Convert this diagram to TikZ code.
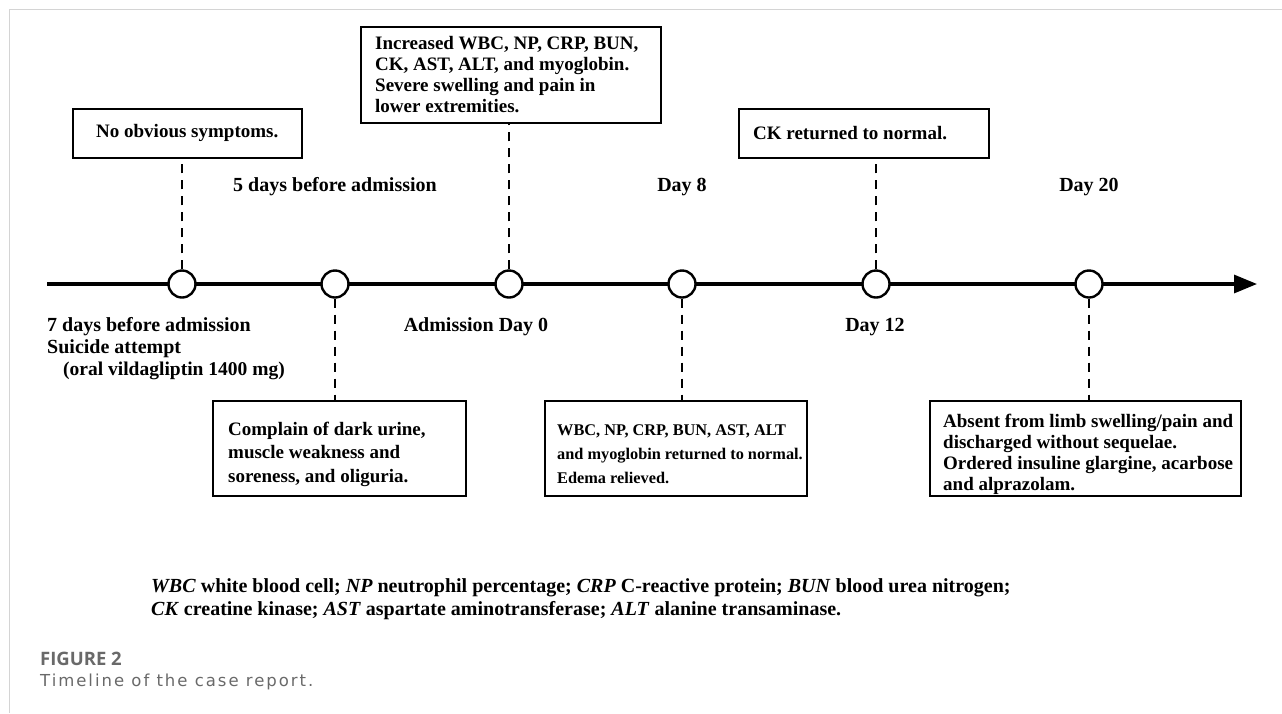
\documentclass[tikz,border=0pt]{standalone}
\usepackage{fontspec}
\setmainfont{Liberation Serif}
\newfontfamily\capfont{Open Sans}
\newfontfamily\capfontsp[LetterSpace=12]{DejaVu Sans}
\usetikzlibrary{arrows.meta}
\definecolor{framegray}{RGB}{212,212,212}
\definecolor{capgray}{RGB}{105,105,105}
\tikzset{
  boxframe/.style={draw=black, line width=2.5pt, fill=white, inner sep=0pt},
  boxtext/.style={inner sep=0pt, anchor=west, align=left, font=\bfseries\fontsize{19}{23.5}\selectfont},
  boxtextsmall/.style={boxtext, font=\bfseries\fontsize{16.3}{24}\selectfont},
  boxtextfour/.style={boxtext, font=\bfseries\fontsize{19}{21}\selectfont},
  evt/.style={circle, draw=black, line width=2.4pt, fill=white, minimum size=27pt, inner sep=0pt},
  conn/.style={line width=2pt, dash pattern=on 9pt off 7pt},
  lbl/.style={font=\bfseries\fontsize{20}{22}\selectfont, inner sep=0pt, anchor=base},
  lblw/.style={lbl, anchor=base west},
  legend/.style={font=\bfseries\fontsize{20}{23}\selectfont, inner sep=0pt, anchor=base west},
}
\begin{document}
\begin{tikzpicture}[x=1pt,y=-1pt]
\useasboundingbox (0,0) rectangle (1282,713);
% frame
\draw[framegray, line width=1.5pt] (9.5,713) -- (9.5,9.5) -- (1282,9.5);
% timeline
\coordinate (tstart) at (47,284);
\coordinate (tend) at (1257,284);
\draw[line width=3.2pt, -{Triangle[length=23pt,width=18pt]}] (tstart) -- (tend);
% events
\node[evt] (c1) at (182,284) {};
\node[evt] (c2) at (335,284) {};
\node[evt] (c3) at (509,284) {};
\node[evt] (c4) at (682,284) {};
\node[evt] (c5) at (876,284) {};
\node[evt] (c6) at (1089,284) {};
% box frames
\node[boxframe, minimum width=229pt, minimum height=49pt] (b1) at (187.5,133.5) {};
\node[boxframe, minimum width=250pt, minimum height=49pt] (b5) at (864,133.5) {};
\node[boxframe, minimum width=300pt, minimum height=96pt] (b3) at (511,75) {};
\node[boxframe, minimum width=253pt, minimum height=95pt] (b2) at (339.5,448.5) {};
\node[boxframe, minimum width=262pt, minimum height=95pt] (b4) at (676,448.5) {};
\node[boxframe, minimum width=311pt, minimum height=95pt] (b6) at (1085.5,448.5) {};
% box texts
\node[boxtext] (t1) at (96,133) {No obvious symptoms.};
\node[boxtext] (t5) at (753,133) {CK returned to normal.};
\node[boxtextfour] (t3) at (375,75) {Increased WBC, NP, CRP, BUN,\\CK, AST, ALT, and myoglobin.\\Severe swelling and pain in\\lower extremities.};
\node[boxtext] (t2) at (228,454) {Complain of dark urine,\\muscle weakness and\\soreness, and oliguria.};
\node[boxtextsmall] (t4) at (557,454) {WBC, NP, CRP, BUN, AST, ALT\\and myoglobin returned to normal.\\Edema relieved.};
\node[boxtextfour] (t6) at (943,454) {Absent from limb swelling/pain and\\discharged without sequelae.\\Ordered insuline glargine, acarbose\\and alprazolam.};
% connectors
\draw[conn] (c1.north) -- (c1.north |- b1.south);
\draw[conn] (c2.south) -- (c2.south |- b2.north);
\draw[conn] (c3.north) -- (c3.north |- b3.south);
\draw[conn] (c4.south) -- (c4.south |- b4.north);
\draw[conn] (c5.north) -- (c5.north |- b5.south);
\draw[conn] (c6.south) -- (c6.south |- b6.north);
% labels
\node[lbl] (l2) at (335,191) {5 days before admission};
\node[lbl] (l4) at (682,191) {Day 8};
\node[lbl] (l6) at (1089,191) {Day 20};
\node[lblw] (l1a) at (47,331) {7 days before admission};
\node[lblw] (l1b) at (47,353) {Suicide attempt};
\node[lblw, font=\bfseries\fontsize{19.5}{22}\selectfont] (l1c) at (63,375) {(oral vildagliptin 1400 mg)};
\node[lbl] (l3) at (476,331) {Admission Day 0};
\node[lbl] (l5) at (875,331) {Day 12};
% legend
\node[legend] (lg1) at (151,592) {\textit{WBC} white blood cell; \textit{NP} neutrophil percentage; \textit{CRP} C-reactive protein; \textit{BUN} blood urea nitrogen;};
\node[legend] (lg2) at (151,615) {\textit{CK} creatine kinase; \textit{AST} aspartate aminotransferase; \textit{ALT} alanine transaminase.};
% caption
\node[anchor=base west, inner sep=0pt, text=capgray, font=\capfont\bfseries\fontsize{18.5}{20}\selectfont] (cap1) at (40,665) {FIGURE 2};
\node[anchor=base west, inner sep=0pt, text=capgray, font=\capfontsp\fontsize{16.5}{20}\selectfont] (cap2) at (40,686) {Timeline of the case report.};
\end{tikzpicture}
\end{document}
